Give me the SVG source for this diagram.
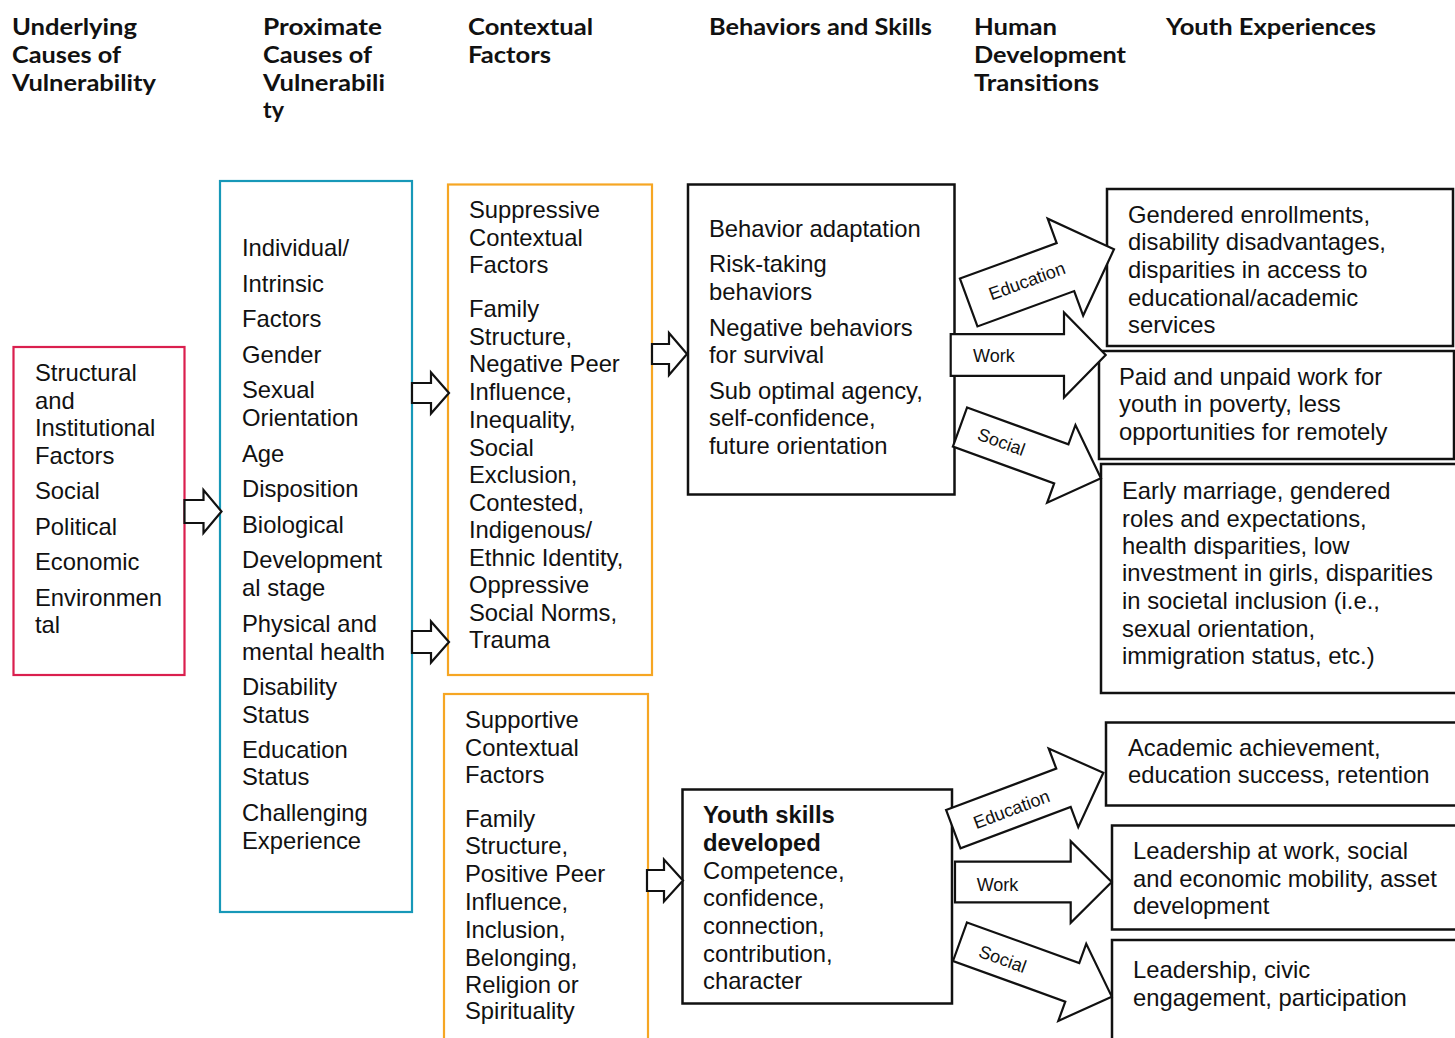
<svg xmlns="http://www.w3.org/2000/svg" width="1455" height="1038" viewBox="0 0 1455 1038">
<style>
.hd{font-family:Lato,"Open Sans","DejaVu Sans",sans-serif;font-weight:700;font-size:22.5px;fill:#111}
.t{font-family:"Liberation Sans",Arial,sans-serif;font-size:23.8px;fill:#111}
.b{font-weight:700}
.lbl{font-family:"Liberation Sans",Arial,sans-serif;font-size:18px;fill:#111}
.box{fill:#fff;stroke:#111;stroke-width:2.5}
.red{fill:#fff;stroke:#DA1F4E;stroke-width:2.2}
.blue{fill:#fff;stroke:#1798B8;stroke-width:2.2}
.org{fill:#fff;stroke:#F6A623;stroke-width:2.2}
.arr{fill:#fff;stroke:#111;stroke-width:2.2;stroke-linejoin:miter}
</style>
<rect width="1455" height="1038" fill="#fff"/>

<g id="headers">
<text class="hd" x="12" y="35" textLength="125" lengthAdjust="spacingAndGlyphs">Underlying</text>
<text class="hd" x="12" y="63" textLength="109" lengthAdjust="spacingAndGlyphs">Causes of</text>
<text class="hd" x="12" y="91" textLength="144" lengthAdjust="spacingAndGlyphs">Vulnerability</text>
<text class="hd" x="263" y="35" textLength="119" lengthAdjust="spacingAndGlyphs">Proximate</text>
<text class="hd" x="263" y="63" textLength="109" lengthAdjust="spacingAndGlyphs">Causes of</text>
<text class="hd" x="263" y="91" textLength="122" lengthAdjust="spacingAndGlyphs">Vulnerabili</text>
<text class="hd" x="263" y="118" textLength="21" lengthAdjust="spacingAndGlyphs">ty</text>
<text class="hd" x="468" y="35" textLength="125" lengthAdjust="spacingAndGlyphs">Contextual</text>
<text class="hd" x="468" y="63" textLength="83" lengthAdjust="spacingAndGlyphs">Factors</text>
<text class="hd" x="709" y="35" textLength="223" lengthAdjust="spacingAndGlyphs">Behaviors and Skills</text>
<text class="hd" x="974" y="35" textLength="83" lengthAdjust="spacingAndGlyphs">Human</text>
<text class="hd" x="974" y="63" textLength="152" lengthAdjust="spacingAndGlyphs">Development</text>
<text class="hd" x="974" y="91" textLength="125" lengthAdjust="spacingAndGlyphs">Transitions</text>
<text class="hd" x="1166" y="35" textLength="210" lengthAdjust="spacingAndGlyphs">Youth Experiences</text>
</g>

<g id="underlying">
<rect class="red" x="13.5" y="347" width="171" height="328"/>
<text class="t" x="35" y="381">Structural</text>
<text class="t" x="35" y="408.5">and</text>
<text class="t" x="35" y="436">Institutional</text>
<text class="t" x="35" y="463.5">Factors</text>
<text class="t" x="35" y="499">Social</text>
<text class="t" x="35" y="534.5">Political</text>
<text class="t" x="35" y="570">Economic</text>
<text class="t" x="35" y="605.5">Environmen</text>
<text class="t" x="35" y="633">tal</text>
</g>

<g id="proximate">
<rect class="blue" x="220" y="181" width="192" height="731"/>
<text class="t" x="242" y="256">Individual/</text>
<text class="t" x="242" y="291.5">Intrinsic</text>
<text class="t" x="242" y="327">Factors</text>
<text class="t" x="242" y="362.5">Gender</text>
<text class="t" x="242" y="398">Sexual</text>
<text class="t" x="242" y="426">Orientation</text>
<text class="t" x="242" y="461.5">Age</text>
<text class="t" x="242" y="497">Disposition</text>
<text class="t" x="242" y="532.5">Biological</text>
<text class="t" x="242" y="568">Development</text>
<text class="t" x="242" y="596">al stage</text>
<text class="t" x="242" y="631.5">Physical and</text>
<text class="t" x="242" y="659.5">mental health</text>
<text class="t" x="242" y="695">Disability</text>
<text class="t" x="242" y="723">Status</text>
<text class="t" x="242" y="757.5">Education</text>
<text class="t" x="242" y="785">Status</text>
<text class="t" x="242" y="821">Challenging</text>
<text class="t" x="242" y="848.5">Experience</text>
</g>

<g id="suppressive">
<rect class="org" x="448" y="184.5" width="204" height="490.5"/>
<text class="t" x="469" y="218">Suppressive</text>
<text class="t" x="469" y="246">Contextual</text>
<text class="t" x="469" y="273">Factors</text>
<text class="t" x="469" y="317">Family</text>
<text class="t" x="469" y="345">Structure,</text>
<text class="t" x="469" y="372">Negative Peer</text>
<text class="t" x="469" y="400">Influence,</text>
<text class="t" x="469" y="428">Inequality,</text>
<text class="t" x="469" y="456">Social</text>
<text class="t" x="469" y="483">Exclusion,</text>
<text class="t" x="469" y="511">Contested,</text>
<text class="t" x="469" y="538">Indigenous/</text>
<text class="t" x="469" y="566">Ethnic Identity,</text>
<text class="t" x="469" y="593">Oppressive</text>
<text class="t" x="469" y="621">Social Norms,</text>
<text class="t" x="469" y="648">Trauma</text>
</g>

<g id="supportive">
<rect class="org" x="444" y="694" width="204" height="360"/>
<text class="t" x="465" y="728">Supportive</text>
<text class="t" x="465" y="756">Contextual</text>
<text class="t" x="465" y="783">Factors</text>
<text class="t" x="465" y="827">Family</text>
<text class="t" x="465" y="854">Structure,</text>
<text class="t" x="465" y="882">Positive Peer</text>
<text class="t" x="465" y="910">Influence,</text>
<text class="t" x="465" y="938">Inclusion,</text>
<text class="t" x="465" y="966">Belonging,</text>
<text class="t" x="465" y="993">Religion or</text>
<text class="t" x="465" y="1019">Spirituality</text>
</g>

<g id="behaviors">
<rect class="box" x="688" y="184.5" width="266.5" height="310"/>
<text class="t" x="709" y="237">Behavior adaptation</text>
<text class="t" x="709" y="272">Risk-taking</text>
<text class="t" x="709" y="300">behaviors</text>
<text class="t" x="709" y="336">Negative behaviors</text>
<text class="t" x="709" y="363">for survival</text>
<text class="t" x="709" y="399">Sub optimal agency,</text>
<text class="t" x="709" y="426">self-confidence,</text>
<text class="t" x="709" y="454">future orientation</text>
</g>

<g id="skills">
<rect class="box" x="682.5" y="789.5" width="269.5" height="214"/>
<text class="t b" x="703" y="823">Youth skills</text>
<text class="t b" x="703" y="851">developed</text>
<text class="t" x="703" y="879">Competence,</text>
<text class="t" x="703" y="906">confidence,</text>
<text class="t" x="703" y="934">connection,</text>
<text class="t" x="703" y="962">contribution,</text>
<text class="t" x="703" y="989">character</text>
</g>

<g id="exp-education-neg">
<rect class="box" x="1107" y="189" width="346" height="157"/>
<text class="t" x="1128" y="223">Gendered enrollments,</text>
<text class="t" x="1128" y="250">disability disadvantages,</text>
<text class="t" x="1128" y="278">disparities in access to</text>
<text class="t" x="1128" y="306">educational/academic</text>
<text class="t" x="1128" y="333">services</text>
</g>

<g id="exp-work-neg">
<rect class="box" x="1099" y="351" width="355" height="108"/>
<text class="t" x="1119" y="385">Paid and unpaid work for</text>
<text class="t" x="1119" y="412">youth in poverty, less</text>
<text class="t" x="1119" y="440">opportunities for remotely</text>
</g>

<g id="exp-social-neg">
<rect class="box" x="1101" y="464" width="356" height="229"/>
<text class="t" x="1122" y="499">Early marriage, gendered</text>
<text class="t" x="1122" y="527">roles and expectations,</text>
<text class="t" x="1122" y="554">health disparities, low</text>
<text class="t" x="1122" y="581">investment in girls, disparities</text>
<text class="t" x="1122" y="609">in societal inclusion (i.e.,</text>
<text class="t" x="1122" y="637">sexual orientation,</text>
<text class="t" x="1122" y="664">immigration status, etc.)</text>
</g>

<g id="exp-education-pos">
<rect class="box" x="1106" y="722.5" width="352" height="83"/>
<text class="t" x="1128" y="756">Academic achievement,</text>
<text class="t" x="1128" y="783">education success, retention</text>
</g>

<g id="exp-work-pos">
<rect class="box" x="1112" y="825.5" width="346" height="104"/>
<text class="t" x="1133" y="859">Leadership at work, social</text>
<text class="t" x="1133" y="887">and economic mobility, asset</text>
<text class="t" x="1133" y="914">development</text>
</g>

<g id="exp-social-pos">
<rect class="box" x="1112" y="940" width="346" height="120"/>
<text class="t" x="1133" y="978">Leadership, civic</text>
<text class="t" x="1133" y="1006">engagement, participation</text>
</g>

<g id="connectors">
<path class="arr" transform="translate(184.5,511.5)" d="M0,-11.5 H19 V-21.5 L37,0 L19,21.5 V11.5 H0 Z"/>
<path class="arr" transform="translate(412,393)" d="M0,-10 H19 V-20.5 L37,0 L19,20.5 V10 H0 Z"/>
<path class="arr" transform="translate(412,642)" d="M0,-11 H19 V-20.5 L37,0 L19,20.5 V11 H0 Z"/>
<path class="arr" transform="translate(652,354)" d="M0,-10 H17 V-21 L35,0 L17,21 V10 H0 Z"/>
<path class="arr" transform="translate(647,880.5)" d="M0,-10.5 H17 V-21 L36,0 L17,21 V10.5 H0 Z"/>

<g transform="translate(968.7,302.5) rotate(-20.1)">
<path class="arr" d="M0,-25.5 H103 V-51.6 L154.7,0 L103,51.6 V25.5 H0 Z"/>
<text class="lbl" x="62" y="6" text-anchor="middle">Education</text>
</g>
<g transform="translate(950.7,355)">
<path class="arr" d="M0,-20.8 H113.3 V-42.5 L155,0 L113.3,42.5 V20.8 H0 Z"/>
<text class="lbl" x="22.3" y="7">Work</text>
</g>
<g transform="translate(960,427) rotate(20)">
<path class="arr" d="M0,-20.8 H107.8 V-41.4 L150,0 L107.8,41.4 V20.8 H0 Z"/>
<text class="lbl" x="44" y="6" text-anchor="middle">Social</text>
</g>

<g transform="translate(953.3,829.2) rotate(-20.6)">
<path class="arr" d="M0,-20.5 H117.7 V-42 L160.3,0 L117.7,42 V20.5 H0 Z"/>
<text class="lbl" x="61.5" y="8" text-anchor="middle">Education</text>
</g>
<g transform="translate(955,882)">
<path class="arr" d="M0,-20.3 H115.7 V-40.8 L156.7,0 L115.7,40.8 V20.3 H0 Z"/>
<text class="lbl" x="21.7" y="9">Work</text>
</g>
<g transform="translate(960,941.7) rotate(19.9)">
<path class="arr" d="M0,-20.5 H119.4 V-41 L161.4,0 L119.4,41 V20.5 H0 Z"/>
<text class="lbl" x="46" y="8" text-anchor="middle">Social</text>
</g>
</g>
</svg>
